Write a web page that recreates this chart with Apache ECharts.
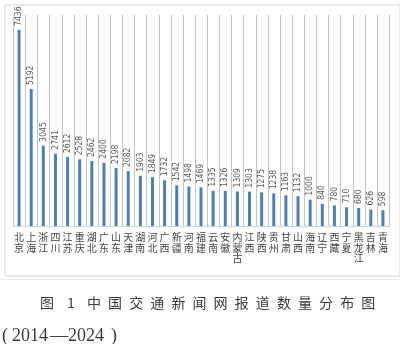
<!DOCTYPE html>
<html>
<head>
<meta charset="utf-8">
<script src="https://cdn.jsdelivr.net/npm/echarts@6/dist/echarts.min.js"></script>
<style>
  html, body { margin: 0; padding: 0; background: #fff; }
  #chart { width: 400px; height: 344px; }
</style>
</head>
<body>
<div id="chart"></div>
<script>
// Provinces and report counts
var provinces = ['北京','上海','浙江','四川','江苏','重庆','湖北','广东','山东','天津','湖南','河北','广西','新疆','河南','福建','云南','安徽','内蒙古','江西','陕西','贵州','甘肃','山西','海南','辽宁','西藏','宁夏','黑龙江','吉林','青海'];
var reports = [7436,5192,3045,2741,2612,2528,2462,2400,2198,2082,1903,1849,1732,1542,1498,1469,1335,1326,1309,1303,1275,1238,1163,1132,1000,840,780,710,680,626,598];
var valueMax = 8000;

var captionLine1 = ['图','1','中','国','交','通','新','闻','网','报','道','数','量','分','布','图'];
var captionLine2 = ['(', '2014', '—', '2024', ')'];

var chart = echarts.init(document.getElementById('chart'), null, { renderer: 'canvas' });

// caption characters are spread out one by one (wide letter spacing)
var captionEls = [];
var cx = [40, 67];
for (var i = 2; i < captionLine1.length; i++) cx.push(87 + (i - 2) * 21.1);
captionLine1.forEach(function (ch, i) {
  captionEls.push({
    type: 'text', left: cx[i], top: 296,
    style: { text: ch, font: '14px "Noto Sans CJK SC", serif', fill: '#3a3a3a' }
  });
});
var cx2 = [2, 12, 50, 68, 111];
captionLine2.forEach(function (part, i) {
  captionEls.push({
    type: 'text', left: cx2[i], top: 327,
    style: { text: part, font: '18px "Liberation Serif", serif', fill: '#3a3a3a' }
  });
});

// vertical grid lines on the category band boundaries
function renderBandLines(params, api) {
  var idx = api.value(0);
  var center = api.coord([idx, 0]);
  var top = api.coord([idx, valueMax])[1];
  var bw = api.size([1, 0])[0];
  var xs = [center[0] - bw / 2];
  if (idx === provinces.length - 1) xs.push(center[0] + bw / 2);
  return {
    type: 'group',
    children: xs.map(function (x) {
      var px = Math.round(x) + 0.5;
      return {
        type: 'line',
        shape: { x1: px, y1: top, x2: px, y2: center[1] },
        style: { stroke: '#c4c4c4', lineWidth: 1 }
      };
    })
  };
}

chart.setOption({
  animation: false,
  backgroundColor: '#fff',
  grid: { left: 13, right: 11, top: 15, bottom: 118, show: false },
  xAxis: {
    type: 'category',
    data: provinces,
    boundaryGap: true,
    axisTick: { show: false },
    axisLine: { show: true, lineStyle: { color: '#d0d0d0' } },
    splitLine: { show: false },
    axisLabel: {
      interval: 0,
      margin: 6,
      fontSize: 10,
      lineHeight: 10.5,
      color: '#444',
      fontFamily: '"Noto Sans CJK SC", sans-serif',
      formatter: function (v) { return v.split('').join('\n'); }
    }
  },
  yAxis: {
    type: 'value', min: 0, max: valueMax,
    axisLine: { show: false }, axisTick: { show: false }, axisLabel: { show: false },
    splitLine: { show: false }
  },
  series: [{
    type: 'custom',
    z: 1,
    silent: true,
    renderItem: renderBandLines,
    data: provinces.map(function (p, i) { return [i]; })
  }, {
    type: 'bar',
    z: 2,
    data: reports,
    barWidth: 3,
    itemStyle: { color: '#4d7fb5' },
    label: {
      show: true,
      position: 'top',
      rotate: 90,
      align: 'left',
      verticalAlign: 'middle',
      distance: 4,
      fontSize: 8.5,
      color: '#5a5a5a',
      fontFamily: '"DejaVu Sans Condensed", "Liberation Sans Narrow", sans-serif'
    }
  }],
  graphic: [
    {
      type: 'rect', left: 2.5, top: 2.5, silent: true,
      shape: { width: 395, height: 271 },
      style: { fill: 'none', stroke: '#d6d6d6', lineWidth: 1 }
    },
    {
      type: 'line', silent: true,
      shape: { x1: 0, y1: 279.5, x2: 400, y2: 279.5 },
      style: { stroke: '#ececec', lineWidth: 1 }
    }
  ].concat(captionEls)
});
</script>
</body>
</html>
